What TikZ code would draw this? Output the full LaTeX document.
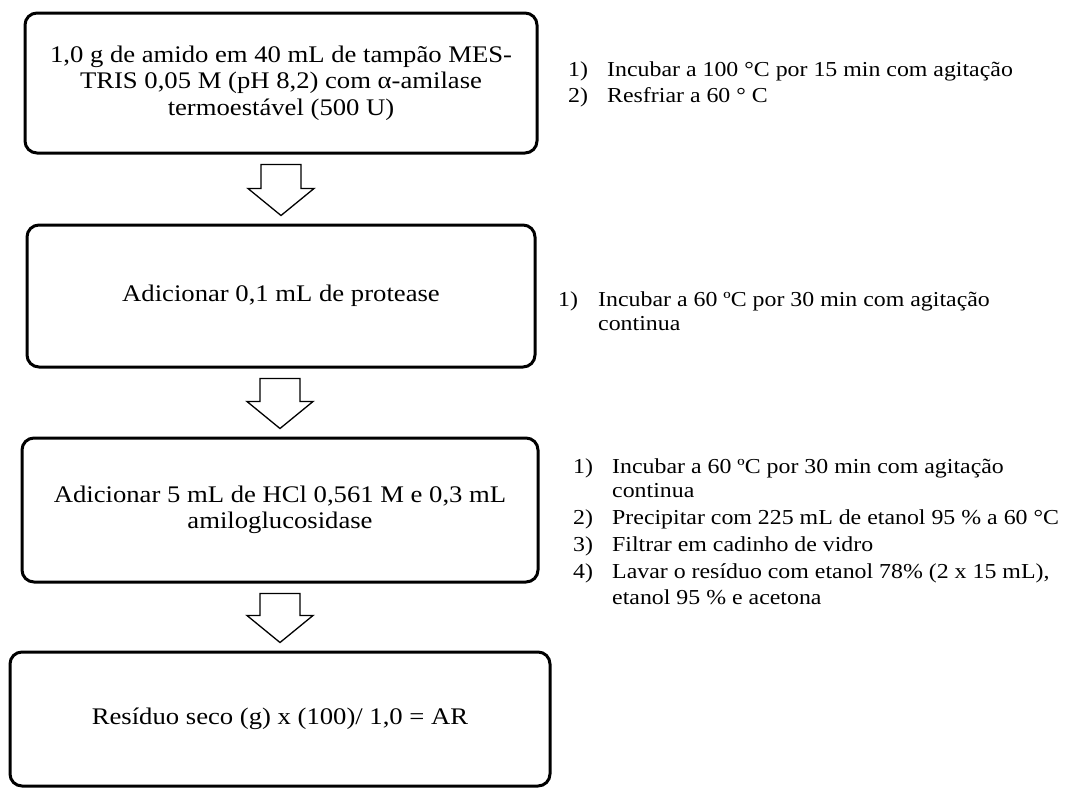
\documentclass[tikz,border=0pt]{standalone}
\usepackage{fontspec}
\setmainfont{Liberation Serif}[FakeStretch=1.12]
\usetikzlibrary{calc}

\tikzset{
  passo/.style={draw, line width=3pt, rounded corners=12pt, align=center,
    font=\fontsize{23.8}{26.5}\selectfont},
  seta/.style={draw, line width=1.3pt, fill=white, line join=miter},
  item/.style={anchor=base west, inner sep=0pt, font=\fontsize{21.3}{26}\selectfont},
}

\begin{document}
\begin{tikzpicture}[x=1pt,y=-1pt]

\useasboundingbox (0,0) rectangle (1075,790);

% etapas
\node[passo, minimum width=512, minimum height=140] (b1) at (281,83)
  {1,0 g de amido em 40 mL de tampão MES-\\TRIS 0,05 M (pH 8,2) com α-amilase\\termoestável (500 U)};
\node[passo, minimum width=508, minimum height=142] (b2) at (281,296)
  {Adicionar 0,1 mL de protease};
\node[passo, minimum width=516, minimum height=144] (b3) at (280,510)
  {Adicionar 5 mL de HCl 0,561 M e 0,3 mL\\amiloglucosidase};
\node[passo, minimum width=540, minimum height=134] (b4) at (280,719)
  {Resíduo seco (g) x (100)/ 1,0 = AR};

% setas
\foreach \a/\b in {b1/b2,b2/b3,b3/b4}{
  \coordinate (t) at (\b.north |- \a.south);
  \draw[seta] ($(t)+(-20,10)$) -- ($(t)+(20,10)$) -- ($(\b.north)+(20,-35)$)
    -- ($(\b.north)+(33,-35)$) -- ($(\b.north)+(0,-8)$)
    -- ($(\b.north)+(-33,-35)$) -- ($(\b.north)+(-20,-35)$) -- cycle;
}

% condicoes
\foreach \k/\y/\t in {1/76/{Incubar a 100 °C por 15 min com agitação},
                      2/102/{Resfriar a 60 ° C}}{
  \node[item] (na\k) at (568,\y) {\k)};
  \node[item] (ta\k) at (607,\y) {\t};
}

\node[item] (nb1) at (558,306) {1)};
\node[item] (tb1) at (598,306) {Incubar a 60 ºC por 30 min com agitação};
\node[item] (tb1c) at (598,330) {continua};

\foreach \k/\y/\t in {1/473/{Incubar a 60 ºC por 30 min com agitação},
                      2/524/{Precipitar com 225 mL de etanol 95 \% a 60 °C},
                      3/551/{Filtrar em cadinho de vidro},
                      4/578/{Lavar o resíduo com etanol 78\% (2 x 15 mL),}}{
  \node[item] (nc\k) at (573,\y) {\k)};
  \node[item] (tc\k) at (612,\y) {\t};
}
\node[item] (tc1c) at (612,497) {continua};
\node[item] (tc4c) at (612,604) {etanol 95 \% e acetona};

\end{tikzpicture}
\end{document}
